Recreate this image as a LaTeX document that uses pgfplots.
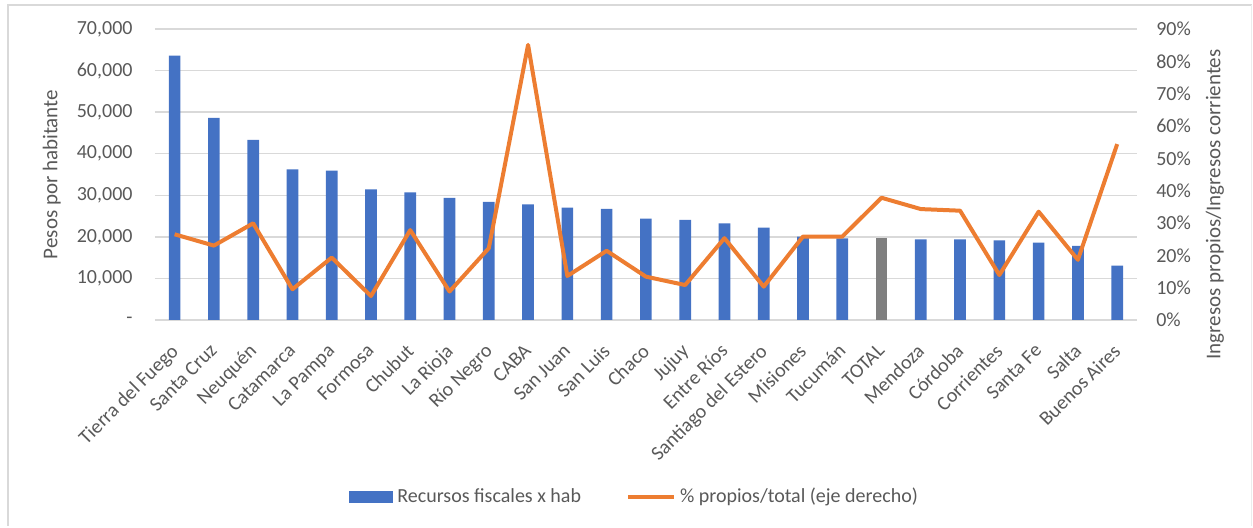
\documentclass[border=0pt]{standalone}
\usepackage{pgfplots}
\pgfplotsset{compat=1.18}
\usepackage{fontspec}
\setmainfont{Carlito}
\definecolor{barblue}{HTML}{4472C4}
\definecolor{bargray}{HTML}{7F7F7F}
\definecolor{lineorange}{HTML}{ED7D31}
\definecolor{gridgray}{HTML}{D9D9D9}
\definecolor{textgray}{HTML}{595959}
\begin{document}
\begin{tikzpicture}
\fontsize{10}{12}\selectfont
\path (0,0) rectangle (626.5pt,263pt);
\draw[gridgray, line width=1.2pt] (4pt,0) -- (4pt,260.5pt) -- (626pt,260.5pt);
\draw[gridgray!50, line width=0.6pt] (626pt,260.5pt) -- (626pt,0);
\begin{axis}[
  at={(77.5pt,103pt)}, anchor=south west,
  width=491pt, height=145.5pt, scale only axis,
  xmin=-0.5, xmax=24.5, ymin=0, ymax=70000,
  scaled y ticks=false,
  axis line style={draw=none},
  major tick length=0pt,
  ymajorgrids, grid style={gridgray, line width=0.7pt},
  ytick={0,10000,20000,30000,40000,50000,60000,70000},
  yticklabels={-,{10,000},{20,000},{30,000},{40,000},{50,000},{60,000},{70,000}},
  xtick={0,...,24},
  xticklabels={Tierra del Fuego,Santa Cruz,Neuquén,Catamarca,La Pampa,Formosa,Chubut,La Rioja,Río Negro,CABA,San Juan,San Luis,Chaco,Jujuy,Entre Ríos,Santiago del Estero,Misiones,Tucumán,TOTAL,Mendoza,Córdoba,Corrientes,Santa Fe,Salta,Buenos Aires},
  tick label style={font=\fontsize{10}{12}\selectfont, text=textgray},
  xticklabel style={xshift=-2.6pt, yshift=-6.4pt, rotate=45, anchor=north east},
  yticklabel style={xshift=-7.7pt},
  ylabel={Pesos por habitante},
  ylabel style={at={(axis description cs:-0.105,0.5)}, anchor=center, font=\fontsize{10.5}{12}\selectfont, text=textgray},
  legend style={at={(axis description cs:0.4896,-0.608)}, anchor=center, draw=none, fill=none,
    legend columns=2, font=\fontsize{10}{12}\selectfont, text=textgray,
    /tikz/every even column/.append style={column sep=20.5pt}},
]
\addplot[ybar, bar width=5.85pt, bar shift=0pt, fill=barblue, draw=none,
  legend image code/.code={\fill[barblue] (0pt,-3pt) rectangle (22pt,3pt);}]
coordinates {
(0,63600) (1,48600) (2,43300) (3,36200) (4,35900) (5,31400) (6,30700)
(7,29350) (8,28400) (9,27800) (10,27000) (11,26700) (12,24400) (13,24050)
(14,23250) (15,22200) (16,20050) (17,19650) (19,19400) (20,19400)
(21,19150) (22,18600) (23,17800) (24,13050)
};
\addlegendentry{Recursos fiscales x hab}
\addplot[ybar, bar width=5.85pt, bar shift=0pt, fill=bargray, draw=none, forget plot]
coordinates {(18,19650)};
\addlegendimage{lineorange, line width=2pt, legend image code/.code={\draw[lineorange, line width=2pt] (0pt,0pt) -- (23pt,0pt);}}
\addlegendentry{\% propios/total (eje derecho)}
\end{axis}
\begin{axis}[
  at={(77.5pt,103pt)}, anchor=south west,
  width=491pt, height=145.5pt, scale only axis,
  xmin=-0.5, xmax=24.5, ymin=0, ymax=90,
  hide x axis,
  axis y line*=right,
  axis line style={draw=none},
  major tick length=0pt,
  ytick={0,10,20,30,40,50,60,70,80,90},
  yticklabels={0\%,10\%,20\%,30\%,40\%,50\%,60\%,70\%,80\%,90\%},
  tick label style={font=\fontsize{10}{12}\selectfont, text=textgray},
  yticklabel style={xshift=6.2pt},
  ylabel={Ingresos propios/Ingresos corrientes},
  ylabel style={at={(axis description cs:1.0794,0.397)}, anchor=center, rotate=0, font=\fontsize{10.5}{12}\selectfont, text=textgray},
]
\addplot[lineorange, line width=2pt, line join=round, mark=none] coordinates {
(0,26.5) (1,23.0) (2,29.9) (3,9.5) (4,19.3) (5,7.4) (6,27.8)
(7,8.8) (8,22.2) (9,85.1) (10,13.6) (11,21.4) (12,13.4) (13,10.8)
(14,25.3) (15,10.3) (16,25.8) (17,25.8) (18,37.8) (19,34.3) (20,33.8)
(21,13.9) (22,33.5) (23,18.6) (24,54.4)
};
\end{axis}
\end{tikzpicture}
\end{document}
